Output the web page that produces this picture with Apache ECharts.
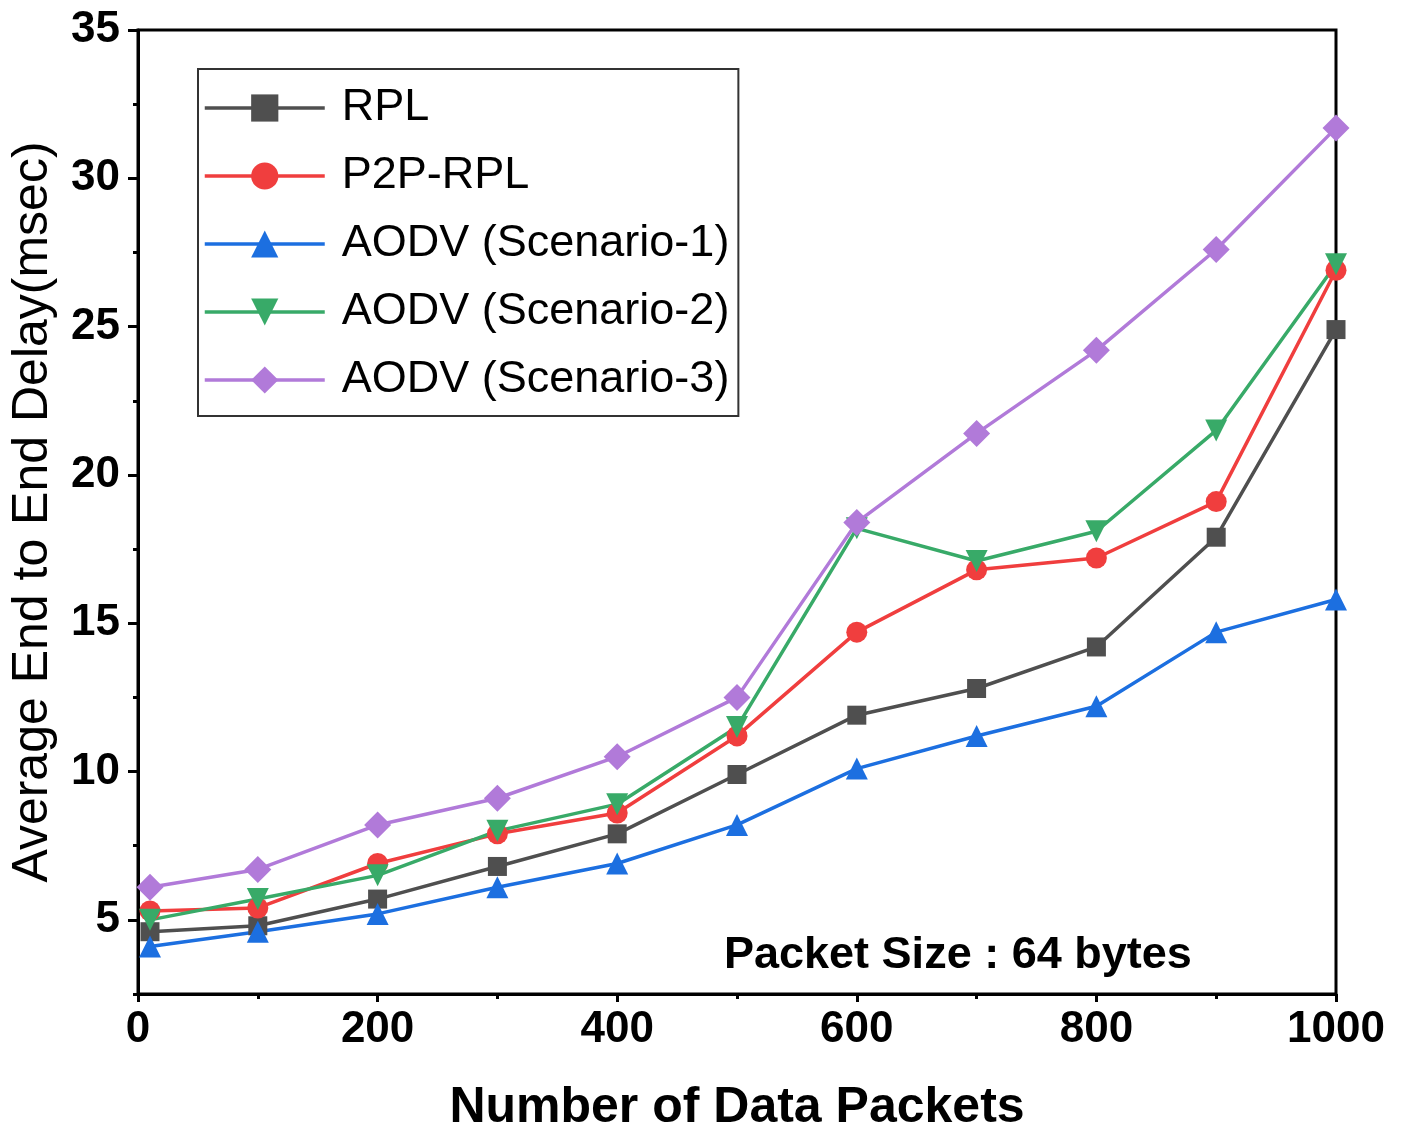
<!DOCTYPE html>
<html>
<head>
<meta charset="utf-8">
<script src="https://cdn.jsdelivr.net/npm/echarts@6/dist/echarts.min.js"></script>
<style>
  html, body { margin: 0; padding: 0; background: #fff; }
  #chart { width: 1409px; height: 1138px; }
</style>
</head>
<body>
<div id="chart"></div>
<script>
const packets = [10, 100, 200, 300, 400, 500, 600, 700, 800, 900, 1000];
const rpl = [4.6, 4.8, 5.7, 6.8, 7.9, 9.9, 11.9, 12.8, 14.2, 17.9, 24.9];
const p2pRpl = [5.3, 5.4, 6.9, 7.9, 8.6, 11.2, 14.7, 16.8, 17.2, 19.1, 26.9];
const aodv1 = [4.1, 4.6, 5.2, 6.1, 6.9, 8.2, 10.1, 11.2, 12.2, 14.7, 15.8];
const aodv2 = [5.0, 5.7, 6.5, 8.0, 8.9, 11.5, 18.2, 17.1, 18.1, 21.5, 27.1];
const aodv3 = [6.1, 6.7, 8.2, 9.1, 10.5, 12.5, 18.4, 21.4, 24.2, 27.6, 31.7];

const yMajor = [5, 10, 15, 20, 25, 30, 35];
const yMinor = [2.5, 7.5, 12.5, 17.5, 22.5, 27.5, 32.5];

const font = "Liberation Sans, Arial, sans-serif";

function pairs(ys) {
  return packets.map((x, i) => [x, ys[i]]);
}

function makeSeries(name, ys, color, symbol, size, rotate) {
  return {
    name: name,
    type: "line",
    data: pairs(ys),
    symbol: symbol,
    symbolSize: size,
    symbolRotate: rotate || 0,
    lineStyle: { color: color, width: 3.5 },
    itemStyle: { color: color },
    emphasis: { disabled: true },
  };
}

const chart = echarts.init(document.getElementById("chart"));

chart.setOption({
  animation: false,
  backgroundColor: "#fff",
  grid: {
    left: 136,
    right: 73,
    top: 30,
    bottom: 142,
    show: true,
    borderColor: "#000",
    borderWidth: 3,
  },
  legend: {
    orient: "vertical",
    left: 198,
    top: 69,
    padding: [14, 9, 11, 5],
    itemGap: 18,
    itemWidth: 120,
    itemHeight: 34,
    borderColor: "#333",
    borderWidth: 2,
    lineStyle: { width: 3.5 },
    textStyle: {
      fontFamily: font,
      fontSize: 45,
      color: "#000",
      lineHeight: 50,
      padding: [0, 0, 0, 12],
    },
  },
  xAxis: {
    type: "value",
    min: 0,
    max: 1000,
    interval: 200,
    name: "Number of Data Packets",
    nameLocation: "middle",
    nameGap: 89,
    nameTextStyle: { fontFamily: font, fontSize: 50, fontWeight: "bold", color: "#000" },
    axisLine: { lineStyle: { color: "#000", width: 3 } },
    axisTick: { show: true, length: 8, lineStyle: { color: "#000", width: 3 } },
    minorTick: { show: true, splitNumber: 2, length: 5, lineStyle: { color: "#000", width: 3 } },
    axisLabel: {
      fontFamily: font,
      fontSize: 44,
      fontWeight: "bold",
      color: "#000",
      margin: 14,
      formatter: (v) => String(v),
    },
    splitLine: { show: false },
  },
  yAxis: [
    {
      type: "value",
      position: "left",
      min: 2.5,
      max: 35,
      name: "Average End to End Delay(msec)",
      nameLocation: "middle",
      nameGap: 80,
      nameTextStyle: { fontFamily: font, fontSize: 50, color: "#000" },
      axisLine: { lineStyle: { color: "#000", width: 3 } },
      axisTick: { show: true, length: 10, customValues: yMajor, lineStyle: { color: "#000", width: 3 } },
      axisLabel: {
        customValues: yMajor,
        fontFamily: font,
        fontSize: 44,
        fontWeight: "bold",
        color: "#000",
        margin: 18,
      },
      splitLine: { show: false },
    },
    {
      type: "value",
      position: "left",
      min: 2.5,
      max: 35,
      axisLine: { show: false },
      axisTick: { show: true, length: 5, customValues: yMinor, lineStyle: { color: "#000", width: 3 } },
      axisLabel: { show: false },
      splitLine: { show: false },
    },
  ],
  graphic: [
    {
      type: "text",
      left: 724,
      top: 933,
      style: {
        text: "Packet Size : 64 bytes",
        font: "bold 45px " + font,
        fill: "#000",
      },
    },
  ],
  series: [
    makeSeries("RPL", rpl, "#4f4f4f", "rect", 19),
    makeSeries("P2P-RPL", p2pRpl, "#f03e3e", "circle", 21),
    makeSeries("AODV (Scenario-1)", aodv1, "#1c6fe0", "triangle", 22),
    makeSeries("AODV (Scenario-2)", aodv2, "#38aa68", "triangle", 22, 180),
    makeSeries("AODV (Scenario-3)", aodv3, "#b17ad9", "diamond", 27),
  ],
});
</script>
</body>
</html>
